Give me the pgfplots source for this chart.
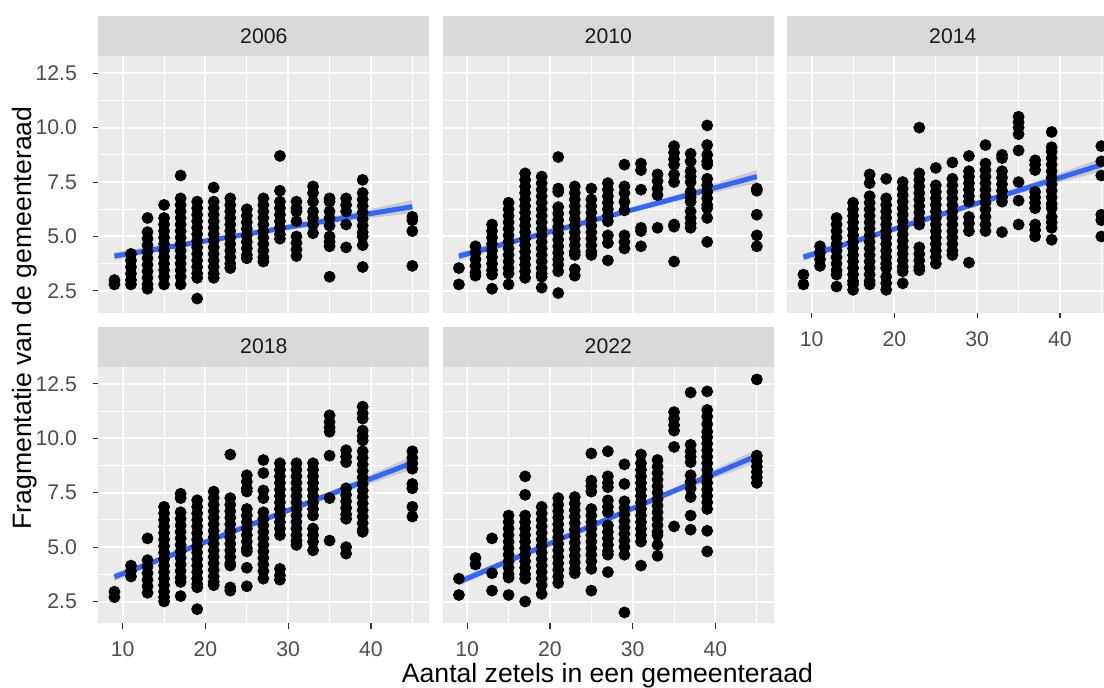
\documentclass[border=0pt]{standalone}
\usepackage{pgfplots}
\pgfplotsset{compat=1.18}
\usepackage{fontspec}
\setmainfont{Liberation Sans}
\definecolor{panelbg}{HTML}{EBEBEB}
\definecolor{stripbg}{HTML}{D9D9D9}
\definecolor{striptext}{HTML}{1A1A1A}
\definecolor{labcol}{HTML}{4D4D4D}
\definecolor{tickcol}{HTML}{333333}
\definecolor{lineblue}{HTML}{3366FF}
\definecolor{bandgray}{HTML}{999999}
\pgfplotsset{
  panel/.style={
    scale only axis, width=165.5pt, height=128.35pt,
    xmin=7.05, xmax=47.05, ymin=1.5, ymax=13.29,
    anchor=south west,
    axis background/.style={fill=panelbg},
    axis line style={draw=none},
    xtick={10,20,30,40}, minor xtick={15,25,35,45},
    ytick={2.5,5,7.5,10,12.5}, minor ytick={3.75,6.25,8.75,11.25},
    xticklabels={10,20,30,40}, yticklabels={2.5,5.0,7.5,10.0,12.5},
    grid=both,
    major grid style={white, line width=1pt},
    minor grid style={white, line width=0.5pt},
    tick align=outside, tick pos=left,
    major tick length=2.75pt, minor tick length=0pt,
    minor tick style={draw=none},
    major tick style={draw=tickcol, line width=0.55pt},
    /pgf/number format/assume math mode=true,
    ticklabel style={font=\fontsize{10.6}{12}\selectfont, text=labcol, inner sep=0pt},
    yticklabel style={anchor=east, xshift=-7.8pt},
    xticklabel style={anchor=north, yshift=-6.3pt},
    clip=true,
  },
  noxt/.style={xmajorticks=false},
  noyt/.style={ymajorticks=false},
  pts/.style={only marks, mark=*, mark size=2.75pt, mark options={draw=none, fill=black}},
  band/.style={draw=none, fill=bandgray, fill opacity=0.4},
  fit/.style={color=lineblue, line width=2.5pt},
}
\newcommand{\strip}[2]{%
  \fill[stripbg] (#1.north west) rectangle ([yshift=20pt]#1.north east);
  \node[font=\fontsize{10.6}{12}\selectfont, text=striptext] at ([yshift=10pt]#1.north) {#2};}
\begin{document}
\begin{tikzpicture}
% ---------------- 2006
\begin{axis}[panel, name=p1, at={(49.15pt,187.15pt)}, noxt]
\addplot[pts] coordinates {
(9,3.0)(9,2.8)
(11,4.2)(11,3.9)(11,3.6)(11,3.3)(11,3.0)(11,2.8)
(13,5.85)(13,5.2)(13,4.9)(13,4.6)(13,4.3)(13,4.0)(13,3.7)(13,3.4)(13,3.1)(13,2.8)(13,2.6)
(15,6.45)(15,5.85)(15,5.55)(15,5.25)(15,4.95)(15,4.65)(15,4.35)(15,4.05)(15,3.75)(15,3.45)(15,3.15)(15,2.8)
(17,7.8)(17,6.75)(17,6.45)(17,6.15)(17,5.85)(17,5.55)(17,5.25)(17,4.95)(17,4.65)(17,4.35)(17,4.05)(17,3.75)(17,3.45)(17,3.15)(17,2.8)
(19,6.6)(19,6.3)(19,6.0)(19,5.7)(19,5.4)(19,5.1)(19,4.8)(19,4.5)(19,4.2)(19,3.9)(19,3.6)(19,3.3)(19,3.1)(19,2.15)
(21,7.25)(21,6.6)(21,6.3)(21,6.0)(21,5.7)(21,5.4)(21,5.1)(21,4.8)(21,4.5)(21,4.2)(21,3.9)(21,3.6)(21,3.3)(21,3.1)
(23,6.75)(23,6.45)(23,6.15)(23,5.85)(23,5.55)(23,5.25)(23,4.95)(23,4.65)(23,4.35)(23,4.05)(23,3.75)(23,3.55)
(25,6.25)(25,5.95)(25,5.65)(25,5.35)(25,5.05)(25,4.75)(25,4.45)(25,4.15)(25,4.0)
(27,6.75)(27,6.45)(27,6.15)(27,5.85)(27,5.55)(27,5.25)(27,4.95)(27,4.65)(27,4.35)(27,4.05)(27,3.85)
(29,8.7)(29,7.1)(29,6.6)(29,6.3)(29,6.0)(29,5.7)(29,5.4)(29,5.1)(29,4.9)
(31,6.6)(31,6.3)(31,6.15)(31,5.7)(31,5.0)(31,4.7)(31,4.4)(31,4.1)
(33,7.3)(33,7.0)(33,6.6)(33,6.15)(33,5.85)(33,5.55)(33,5.15)
(35,6.75)(35,6.6)(35,6.15)(35,5.85)(35,5.5)(35,5.0)(35,4.75)(35,4.55)(35,3.15)
(37,6.75)(37,6.45)(37,6.15)(37,5.55)(37,4.5)
(39,7.6)(39,7.0)(39,6.7)(39,6.4)(39,6.1)(39,5.8)(39,5.5)(39,5.2)(39,5.0)(39,4.6)(39,3.6)
(45,5.9)(45,5.75)(45,5.25)(45,3.65)
};
\addplot[band] coordinates {(9,4.28)(16,4.65)(22,5.0)(30,5.52)(38,6.10)(45,6.67)(45,6.07)(38,5.76)(30,5.32)(22,4.84)(16,4.43)(9,3.92)};
\addplot[fit] coordinates {(9,4.1)(45,6.37)};
\end{axis}
\strip{p1}{2006}
% ---------------- 2010
\begin{axis}[panel, name=p2, at={(221.4pt,187.15pt)}, noxt, noyt]
\addplot[pts] coordinates {
(9,3.55)(9,2.8)
(11,4.55)(11,4.25)(11,3.95)(11,3.65)(11,3.35)(11,3.2)
(13,5.55)(13,5.25)(13,4.95)(13,4.65)(13,4.35)(13,4.05)(13,3.75)(13,3.45)(13,3.25)(13,2.6)
(15,6.55)(15,6.25)(15,5.95)(15,5.65)(15,5.35)(15,5.05)(15,4.75)(15,4.45)(15,4.15)(15,3.85)(15,3.55)(15,3.3)(15,2.8)
(17,7.9)(17,7.6)(17,7.3)(17,7.0)(17,6.7)(17,6.4)(17,6.1)(17,5.8)(17,5.5)(17,5.2)(17,4.9)(17,4.6)(17,4.3)(17,4.0)(17,3.7)(17,3.4)(17,3.1)
(19,7.75)(19,7.45)(19,7.15)(19,6.85)(19,6.55)(19,6.25)(19,5.95)(19,5.65)(19,5.35)(19,5.05)(19,4.75)(19,4.45)(19,4.15)(19,3.85)(19,3.55)(19,3.3)(19,3.15)(19,2.65)
(21,8.65)(21,7.2)(21,7.05)(21,6.35)(21,6.05)(21,5.75)(21,5.45)(21,5.15)(21,4.85)(21,4.55)(21,4.25)(21,3.95)(21,3.7)(21,3.4)(21,2.4)
(23,7.3)(23,7.0)(23,6.7)(23,6.4)(23,6.1)(23,5.8)(23,5.5)(23,5.2)(23,4.9)(23,4.6)(23,4.3)(23,4.15)(23,3.5)(23,3.2)
(25,7.2)(25,6.7)(25,6.4)(25,6.1)(25,5.8)(25,5.5)(25,5.2)(25,4.9)(25,4.6)(25,4.3)(25,4.15)
(27,7.45)(27,7.15)(27,6.85)(27,6.55)(27,6.25)(27,5.95)(27,5.7)(27,5.05)(27,4.7)(27,3.9)
(29,8.3)(29,7.3)(29,7.0)(29,6.6)(29,6.2)(29,5.05)(29,4.75)(29,4.45)
(31,8.35)(31,8.05)(31,7.15)(31,5.4)(31,5.25)(31,4.55)
(33,7.85)(33,7.55)(33,7.2)(33,6.9)(33,5.4)
(35,9.15)(35,8.85)(35,8.55)(35,8.3)(35,7.85)(35,7.5)(35,5.55)(35,5.45)(35,3.85)
(37,8.8)(37,8.45)(37,8.0)(37,7.75)(37,7.5)(37,7.05)(37,6.8)(37,6.6)(37,6.15)(37,5.85)(37,5.6)(37,5.4)
(39,10.1)(39,9.2)(39,8.75)(39,8.45)(39,8.3)(39,7.65)(39,7.35)(39,7.05)(39,6.75)(39,6.45)(39,6.3)(39,5.85)(39,4.75)
(45,7.2)(45,7.1)(45,6.0)(45,5.05)(45,4.55)
};
\addplot[band] coordinates {(9,4.28)(16,4.92)(22,5.50)(30,6.33)(38,7.21)(45,8.05)(45,7.45)(38,6.87)(30,6.13)(22,5.34)(16,4.70)(9,3.92)};
\addplot[fit] coordinates {(9,4.1)(45,7.75)};
\end{axis}
\strip{p2}{2010}
% ---------------- 2014
\begin{axis}[panel, name=p3, at={(393.65pt,187.15pt)}, noyt]
\addplot[pts] coordinates {
(9,3.25)(9,2.8)
(11,4.55)(11,4.25)(11,3.95)(11,3.65)
(13,5.85)(13,5.55)(13,5.25)(13,4.95)(13,4.65)(13,4.35)(13,4.05)(13,3.75)(13,3.45)(13,3.25)(13,2.7)
(15,6.55)(15,6.25)(15,5.95)(15,5.65)(15,5.35)(15,5.05)(15,4.75)(15,4.45)(15,4.15)(15,3.85)(15,3.55)(15,3.25)(15,2.95)(15,2.8)(15,2.55)
(17,7.85)(17,7.45)(17,6.85)(17,6.55)(17,6.25)(17,5.95)(17,5.65)(17,5.35)(17,5.05)(17,4.75)(17,4.45)(17,4.15)(17,3.85)(17,3.55)(17,3.25)(17,2.95)(17,2.8)
(19,7.65)(19,6.75)(19,6.45)(19,6.15)(19,5.85)(19,5.55)(19,5.25)(19,4.95)(19,4.65)(19,4.35)(19,4.05)(19,3.75)(19,3.55)(19,3.15)(19,2.85)(19,2.55)
(21,7.5)(21,7.2)(21,6.9)(21,6.6)(21,6.3)(21,6.0)(21,5.7)(21,5.4)(21,5.1)(21,4.8)(21,4.5)(21,4.2)(21,3.9)(21,3.6)(21,3.4)(21,2.85)
(23,10.0)(23,7.9)(23,7.6)(23,7.3)(23,7.0)(23,6.7)(23,6.4)(23,6.1)(23,5.8)(23,5.55)(23,4.5)(23,4.2)(23,3.9)(23,3.6)(23,3.45)
(25,8.15)(25,7.35)(25,7.05)(25,6.75)(25,6.45)(25,6.15)(25,5.85)(25,5.55)(25,5.25)(25,4.95)(25,4.65)(25,4.35)(25,4.05)(25,3.75)
(27,8.4)(27,7.65)(27,7.35)(27,7.05)(27,6.75)(27,6.45)(27,6.15)(27,5.85)(27,5.55)(27,5.25)(27,4.95)(27,4.65)(27,4.35)(27,4.15)
(29,8.7)(29,8.0)(29,7.75)(29,7.45)(29,7.15)(29,6.85)(29,6.6)(29,5.9)(29,5.6)(29,5.25)(29,3.8)
(31,9.2)(31,8.35)(31,8.05)(31,7.75)(31,7.45)(31,7.15)(31,6.85)(31,6.55)(31,6.25)(31,5.9)(31,5.55)(31,5.25)
(33,8.75)(33,8.6)(33,8.0)(33,7.7)(33,7.4)(33,7.1)(33,6.8)(33,6.6)(33,5.2)
(35,10.5)(35,10.25)(35,10.0)(35,9.7)(35,8.95)(35,7.5)(35,6.65)(35,5.55)
(37,8.5)(37,8.3)(37,8.05)(37,7.05)(37,6.8)(37,6.55)(37,6.3)(37,5.55)(37,5.3)(37,5.0)
(39,9.8)(39,9.1)(39,8.9)(39,8.6)(39,8.3)(39,8.0)(39,7.7)(39,7.4)(39,7.1)(39,6.8)(39,6.5)(39,6.3)(39,5.9)(39,5.65)(39,5.4)(39,4.85)
(45,9.15)(45,8.45)(45,7.8)(45,6.0)(45,5.75)(45,5.0)
};
\addplot[band] coordinates {(9,4.23)(16,4.98)(22,5.66)(30,6.62)(38,7.64)(45,8.59)(45,7.99)(38,7.30)(30,6.42)(22,5.50)(16,4.76)(9,3.87)};
\addplot[fit] coordinates {(9,4.05)(45,8.29)};
\end{axis}
\strip{p3}{2014}
% ---------------- 2018
\begin{axis}[panel, name=p4, at={(49.15pt,31.85pt)}]
\addplot[pts] coordinates {
(9,2.95)(9,2.7)
(11,4.15)(11,3.9)(11,3.65)
(13,5.4)(13,4.4)(13,4.1)(13,3.8)(13,3.5)(13,3.2)(13,2.9)
(15,6.85)(15,6.55)(15,6.25)(15,5.95)(15,5.65)(15,5.35)(15,5.05)(15,4.75)(15,4.45)(15,4.15)(15,3.85)(15,3.55)(15,3.25)(15,2.95)(15,2.7)(15,2.5)
(17,7.45)(17,7.25)(17,6.6)(17,6.3)(17,6.0)(17,5.7)(17,5.4)(17,5.1)(17,4.8)(17,4.5)(17,4.2)(17,3.9)(17,3.6)(17,3.4)(17,2.75)
(19,7.15)(19,6.85)(19,6.55)(19,6.25)(19,5.95)(19,5.65)(19,5.35)(19,5.05)(19,4.75)(19,4.45)(19,4.15)(19,3.85)(19,3.55)(19,3.3)(19,3.15)(19,2.15)
(21,7.55)(21,7.25)(21,6.95)(21,6.65)(21,6.35)(21,6.05)(21,5.75)(21,5.45)(21,5.15)(21,4.85)(21,4.55)(21,4.25)(21,3.95)(21,3.65)(21,3.4)(21,3.25)
(23,9.25)(23,7.25)(23,6.95)(23,6.65)(23,6.35)(23,6.05)(23,5.75)(23,5.45)(23,5.15)(23,4.85)(23,4.55)(23,4.25)(23,4.15)(23,3.15)(23,3.0)
(25,8.3)(25,8.0)(25,7.7)(25,7.55)(25,6.75)(25,6.45)(25,6.15)(25,5.85)(25,5.55)(25,5.25)(25,4.95)(25,4.8)(25,4.05)(25,3.2)
(27,9.0)(27,8.4)(27,7.6)(27,7.25)(27,6.6)(27,6.3)(27,6.0)(27,5.7)(27,5.4)(27,5.1)(27,4.8)(27,4.5)(27,4.2)(27,3.9)(27,3.55)
(29,8.85)(29,8.55)(29,8.25)(29,7.95)(29,7.65)(29,7.35)(29,7.05)(29,6.75)(29,6.45)(29,6.15)(29,5.85)(29,5.55)(29,4.0)(29,3.7)(29,3.5)
(31,8.85)(31,8.55)(31,8.25)(31,7.95)(31,7.65)(31,7.35)(31,7.05)(31,6.75)(31,6.45)(31,6.15)(31,5.85)(31,5.55)(31,5.3)(31,5.1)
(33,8.85)(33,8.55)(33,8.25)(33,7.95)(33,7.65)(33,7.35)(33,7.05)(33,6.75)(33,6.45)(33,5.85)(33,5.55)(33,5.25)(33,4.85)
(35,11.05)(35,10.75)(35,10.5)(35,10.3)(35,9.2)(35,7.25)(35,5.3)
(37,9.45)(37,9.15)(37,8.9)(37,7.7)(37,7.4)(37,7.1)(37,6.8)(37,6.5)(37,6.3)(37,5.0)(37,4.7)
(39,11.45)(39,11.15)(39,10.9)(39,10.35)(39,10.1)(39,9.9)(39,9.4)(39,9.1)(39,8.8)(39,8.5)(39,8.2)(39,7.9)(39,7.6)(39,7.3)(39,7.0)(39,6.7)(39,6.4)(39,6.1)(39,5.8)(39,5.7)
(45,9.4)(45,9.1)(45,8.85)(45,8.6)(45,7.9)(45,7.7)(45,6.85)(45,6.4)
};
\addplot[band] coordinates {(9,3.81)(16,4.76)(22,5.60)(30,6.79)(38,8.02)(45,9.17)(45,8.57)(38,7.68)(30,6.59)(22,5.44)(16,4.54)(9,3.45)};
\addplot[fit] coordinates {(9,3.63)(45,8.87)};
\end{axis}
\strip{p4}{2018}
% ---------------- 2022
\begin{axis}[panel, name=p5, at={(221.4pt,31.85pt)}, noyt]
\addplot[pts] coordinates {
(9,3.55)(9,2.8)
(11,4.5)(11,4.2)
(13,5.4)(13,3.8)(13,3.0)
(15,6.45)(15,6.15)(15,5.85)(15,5.55)(15,5.25)(15,4.95)(15,4.65)(15,4.35)(15,4.05)(15,3.75)(15,3.6)(15,2.8)
(17,8.25)(17,7.4)(17,6.45)(17,6.15)(17,5.85)(17,5.55)(17,5.25)(17,4.95)(17,4.65)(17,4.35)(17,4.05)(17,3.75)(17,3.55)(17,2.5)
(19,6.85)(19,6.55)(19,6.25)(19,5.95)(19,5.65)(19,5.35)(19,5.05)(19,4.75)(19,4.45)(19,4.15)(19,3.85)(19,3.55)(19,3.25)(19,2.85)
(21,7.25)(21,6.95)(21,6.65)(21,6.35)(21,6.05)(21,5.75)(21,5.45)(21,5.15)(21,4.85)(21,4.55)(21,4.25)(21,3.95)(21,3.65)(21,3.35)
(23,7.3)(23,7.0)(23,6.7)(23,6.4)(23,6.1)(23,5.8)(23,5.5)(23,5.2)(23,4.9)(23,4.6)(23,4.3)(23,4.0)(23,3.8)
(25,9.3)(25,8.05)(25,7.8)(25,7.55)(25,6.75)(25,6.45)(25,6.15)(25,5.85)(25,5.55)(25,5.25)(25,4.95)(25,4.65)(25,4.35)(25,4.0)(25,3.0)
(27,9.4)(27,8.25)(27,7.95)(27,7.75)(27,7.15)(27,6.85)(27,6.6)(27,6.0)(27,5.7)(27,5.4)(27,5.1)(27,4.8)(27,4.65)(27,3.85)
(29,8.8)(29,7.9)(29,7.1)(29,6.8)(29,6.5)(29,6.2)(29,5.9)(29,5.6)(29,5.3)(29,5.0)(29,4.65)(29,2.0)
(31,9.25)(31,8.85)(31,8.55)(31,8.25)(31,7.95)(31,7.65)(31,7.35)(31,7.05)(31,6.75)(31,6.45)(31,6.15)(31,5.85)(31,5.55)(31,5.25)(31,4.15)
(33,9.0)(33,8.7)(33,8.4)(33,8.1)(33,7.8)(33,7.5)(33,7.2)(33,6.9)(33,6.6)(33,6.3)(33,6.0)(33,5.7)(33,5.55)(33,5.1)(33,4.6)
(35,11.2)(35,10.9)(35,10.6)(35,10.35)(35,9.6)(35,5.95)
(37,12.1)(37,9.7)(37,9.4)(37,9.15)(37,8.9)(37,8.3)(37,8.0)(37,7.7)(37,7.3)(37,6.45)(37,5.8)
(39,12.15)(39,11.3)(39,11.0)(39,10.65)(39,10.3)(39,10.05)(39,9.75)(39,9.45)(39,9.15)(39,8.85)(39,8.55)(39,8.25)(39,7.95)(39,7.65)(39,7.35)(39,7.05)(39,6.75)(39,5.75)(39,4.8)
(45,12.7)(45,9.2)(45,8.95)(45,8.7)(45,8.45)(45,8.2)(45,7.95)
};
\addplot[band] coordinates {(9,3.58)(16,4.64)(22,5.57)(30,6.88)(38,8.23)(45,9.49)(45,8.89)(38,7.89)(30,6.68)(22,5.41)(16,4.42)(9,3.22)};
\addplot[fit] coordinates {(9,3.4)(45,9.19)};
\end{axis}
\strip{p5}{2022}
% ---------------- titles
\node[font=\fontsize{13.3}{15}\selectfont, anchor=base] at (303.75pt,2.5pt) {Aantal zetels in een gemeenteraad};
\node[font=\fontsize{13.3}{15}\selectfont, anchor=base, rotate=90] at (15.85pt,184.5pt) {Fragmentatie van de gemeenteraad};
\pgfresetboundingbox
\useasboundingbox (0,0) rectangle (552pt,343.5pt);
\end{tikzpicture}
\end{document}
